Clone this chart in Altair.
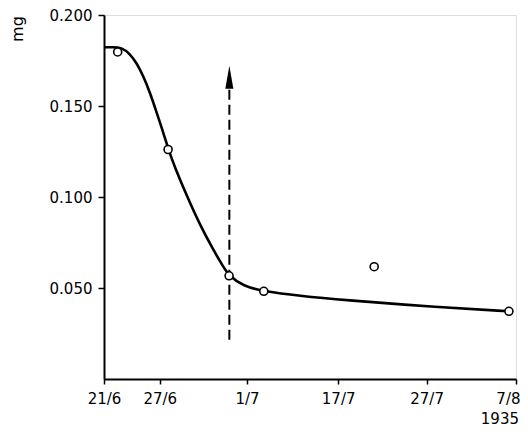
import altair as alt
import pandas as pd

# x in "day-units" along the axis, y in mg
tick_pos = [0, 6.36, 16.32, 26.71, 36.80, 47]
tick_labels = ["21/6", "27/6", "1/7", "17/7", "27/7", "7/8"]

obs_x = [1.56, 7.31, 14.27, 18.23, 30.82, 46.19]
obs_y = [0.1797, 0.1261, 0.0567, 0.0482, 0.0617, 0.0372]

curve_x = [0.0, 1.0, 1.99, 2.93, 3.70, 4.45, 5.22, 5.98, 6.74, 7.31, 8.07, 9.50,
           10.93, 12.44, 13.6, 14.27, 15.87, 18.23, 22.34, 26.91, 38.32, 46.19]
curve_y = [0.1823, 0.1823, 0.1822, 0.1788, 0.1738, 0.1668, 0.1577, 0.1468,
           0.1358, 0.1266, 0.1165, 0.1000, 0.0848, 0.0712, 0.0617, 0.0567,
           0.0510, 0.0482, 0.0457, 0.0435, 0.0394, 0.0372]

arrow_x = [14.3]
arrow_y0 = [0.0215]
arrow_y1 = [0.166]
arrow_head_y = [0.1658]

y_ticks = [0.05, 0.10, 0.15, 0.20]

label_expr = ""
for p, l in zip(tick_pos, tick_labels):
    label_expr += f"datum.value == {p} ? '{l}' : "
label_expr += "''"

FONT = "DejaVu Sans"

xs = alt.X("x:Q", scale=alt.Scale(domain=[0, 47], nice=False, zero=False),
           axis=alt.Axis(values=tick_pos, labelExpr=label_expr, title=None,
                         grid=False, domainColor="black", domainWidth=2,
                         tickColor="black", tickWidth=1.5, tickSize=5,
                         labelFont=FONT, labelFontSize=15, labelColor="black",
                         labelPadding=7, labelFlush=False,
                         labelAlign=alt.ExprRef(f"datum.value == {tick_pos[-1]} ? 'right' : 'center'"),
                         labelOffset=alt.ExprRef(f"datum.value == {tick_pos[-1]} ? 4 : 0")))
ys = alt.Y("y:Q", scale=alt.Scale(domain=[0, 0.2], nice=False),
           axis=alt.Axis(values=y_ticks, format=".3f", title=None, grid=False,
                         domainColor="black", domainWidth=2, tickColor="black",
                         tickWidth=1.5, tickSize=6, labelFont=FONT,
                         labelFontSize=15, labelColor="black", labelPadding=6))

curve_df = pd.DataFrame({"x": curve_x, "y": curve_y})
obs_df = pd.DataFrame({"x": obs_x, "y": obs_y})
arrow_df = pd.DataFrame({"x": arrow_x, "y": arrow_y0, "y2": arrow_y1})
head_df = pd.DataFrame({"x": arrow_x, "y": arrow_head_y})

curve = alt.Chart(curve_df).mark_line(color="black", strokeWidth=2.6,
                                      interpolate="basis").encode(x=xs, y=ys)

arrow = alt.Chart(arrow_df).mark_rule(color="black", strokeWidth=2,
                                      strokeDash=[10, 5]).encode(
    x="x:Q", y="y:Q", y2="y2:Q")

head = alt.Chart(head_df).mark_point(
    shape="M0,-1L0.35,1L-0.35,1Z", size=529, filled=True, color="black",
    opacity=1).encode(x="x:Q", y="y:Q")

points = alt.Chart(obs_df).mark_point(
    shape="circle", size=64, filled=True, fill="white", stroke="black",
    strokeWidth=1.6, opacity=1).encode(x="x:Q", y="y:Q")

mg = alt.Chart(pd.DataFrame({"t": ["mg"]})).mark_text(
    font=FONT, fontSize=16, angle=270, color="black", align="center",
    baseline="middle").encode(text="t:N", x=alt.value(-86), y=alt.value(14))

year = alt.Chart(pd.DataFrame({"t": ["1935"]})).mark_text(
    font=FONT, fontSize=15, color="black", align="right",
    baseline="middle").encode(text="t:N", x=alt.value(415), y=alt.value(404))

chart = alt.layer(curve, arrow, head, points, mg, year).properties(
    width=412, height=364,
    autosize=alt.AutoSizeParams(type="none"),
    padding={"left": 96, "top": 7, "right": 4, "bottom": 50},
).configure_view(stroke=None).configure(background="white")

chart.save("out.html", embed_options={"renderer": "svg", "actions": False})
